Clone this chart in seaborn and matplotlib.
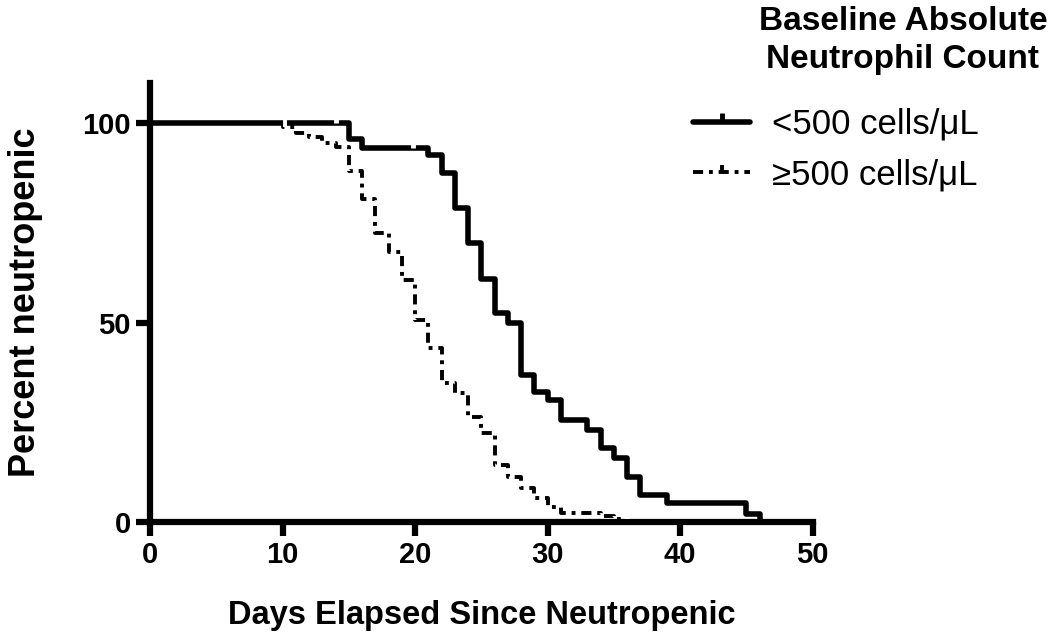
import numpy as np
import pandas as pd
import seaborn as sns
import matplotlib.pyplot as plt
from matplotlib.path import Path
from matplotlib.lines import Line2D

# Kaplan-Meier style step data
low_days = [0, 15, 16, 21, 22, 23, 24, 25, 26, 27, 28, 29, 30, 31, 33, 34, 35, 36, 37, 39, 45, 46]
low_pct = [100, 96, 93.8, 92, 87.5, 78.7, 70, 61, 52.4, 50, 36.8, 32.6, 30.6, 25.6, 23, 18.5, 16, 11.3, 6.8, 4.8, 2, 0]
high_days = [0, 10, 11, 12, 13, 14, 15, 16, 17, 18, 19, 20, 21, 22, 23, 24, 25, 26, 27, 28, 29, 30, 31, 34, 35, 36]
high_pct = [100, 99, 97.5, 96.5, 95, 94, 88, 81, 72.4, 67.7, 60.6, 50.6, 43.6, 34.8, 32.3, 26.3, 22.3, 14.3, 11.3, 8.5, 6, 3.8, 2.3, 1.5, 0.8, 0.8]

low_cens_days = [14, 19.8]
low_cens_pct = [100, 93.8]
high_cens_days = [10.2, 36]
high_cens_pct = [99, 0.8]

groups = ["<500 cells/μL", "≥500 cells/μL"]

cens = pd.concat([
    pd.DataFrame({"days": low_cens_days, "pct": low_cens_pct, "group": groups[0]}),
    pd.DataFrame({"days": high_cens_days, "pct": high_cens_pct, "group": groups[1]}),
])

sns.set_style("ticks")
plt.rcParams["font.family"] = ["Liberation Sans", "DejaVu Sans"]
for k in ["text.color", "axes.labelcolor", "xtick.color", "ytick.color", "axes.edgecolor"]:
    plt.rcParams[k] = "black"

fig = plt.figure(figsize=(10.5, 6.35), dpi=100)
ax = fig.add_axes([0.143, 0.178, 0.631, 0.691])

tick_up = Path([(0, 0), (0, 1)], [Path.MOVETO, Path.LINETO])
dash_style = (0, (2.6, 1.5, 1, 1.5))

ax.step(low_days, low_pct, where="post", color="black", lw=4, clip_on=False, zorder=3)
ax.step(high_days, high_pct, where="post", color="black", lw=2.8,
        linestyle=dash_style, clip_on=False, zorder=3)
sns.scatterplot(data=cens[cens.group == groups[0]], x="days", y="pct", marker=tick_up,
                s=170, color="black", linewidth=3.5, ax=ax, legend=False, clip_on=False, zorder=4)
sns.scatterplot(data=cens[cens.group == groups[1]], x="days", y="pct", marker=tick_up,
                s=100, color="black", linewidth=2.8, ax=ax, legend=False, clip_on=False, zorder=4)

ax.set_xlim(0, 50)
ax.set_ylim(0, 110)
ax.set_xticks([0, 10, 20, 30, 40, 50])
ax.set_yticks([0, 50, 100])
sns.despine(ax=ax)
for s in ["left", "bottom"]:
    ax.spines[s].set_linewidth(4.5)
ax.tick_params(axis="both", length=10, width=4.5, labelsize=21, pad=4)
for lab in ax.get_yticklabels() + ax.get_xticklabels():
    lab.set_fontweight("bold")
ax.set_xlabel("Days Elapsed Since Neutropenic", fontsize=23.5, fontweight="bold", labelpad=22)
ax.set_ylabel("Percent neutropenic", fontsize=26, fontweight="bold", labelpad=28)

handles = [
    Line2D([], [], color="black", lw=4, marker=tick_up, markersize=13, markeredgewidth=3.5),
    Line2D([], [], color="black", lw=2.8, linestyle=dash_style,
           marker=tick_up, markersize=10, markeredgewidth=2.8),
]
fig.legend(handles, groups, loc="upper left", bbox_to_anchor=(0.66, 0.83), frameon=False,
           fontsize=25, handlelength=1.65, handletextpad=0.63, labelspacing=0.5,
           borderpad=0, borderaxespad=0)
fig.text(0.86, 0.936, "Baseline Absolute\nNeutrophil Count", ha="center", va="center",
         fontsize=24, fontweight="bold", linespacing=1.3)

fig.savefig("out.png", dpi=100)
